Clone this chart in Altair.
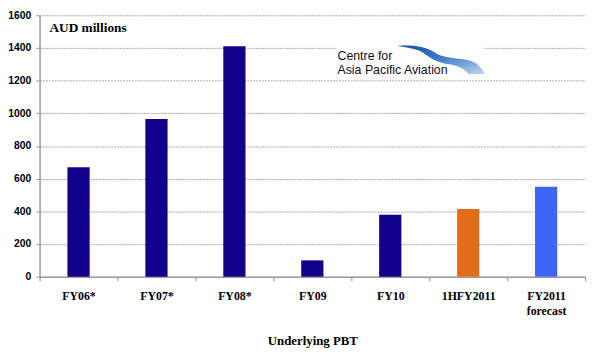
import base64
import altair as alt
import pandas as pd

categories = ["FY06*", "FY07*", "FY08*", "FY09", "FY10", "1HFY2011", "FY2011|forecast"]
values = [670, 965, 1410, 100, 380, 415, 550]
groups = ["past", "past", "past", "past", "past", "half", "forecast"]
group_domain = ["past", "half", "forecast"]
group_colors = ["#11008A", "#E36C1A", "#3D66F5"]
y_ticks = [0, 200, 400, 600, 800, 1000, 1200, 1400, 1600]
unit_label = ["AUD millions"]
logo_line1 = ["Centre for"]
logo_line2 = ["Asia Pacific Aviation"]
x_title = "Underlying PBT"

df = pd.DataFrame({"cat": categories, "value": values, "group": groups})

LEFT = 32  # plot area starts at page x = 8 + LEFT
W, H = 553, 265
OX = LEFT + 8 - 37  # shift relative to the reference's plot origin

bars = alt.Chart(df).mark_bar(width=alt.RelativeBandSize(0.285)).encode(
    x=alt.X(
        "cat:N",
        sort=categories,
        scale=alt.Scale(paddingInner=0, paddingOuter=0),
        axis=alt.Axis(
            title=x_title,
            labelAngle=0,
            tickBand="extent",
            labelExpr="split(datum.label, '|')",
            domainColor="#9a9a9a",
            domainWidth=1.5,
            tickColor="#9a9a9a",
            tickWidth=1.2,
            tickSize=4,
            labelFont="Liberation Serif",
            labelFontSize=12,
            labelFontWeight="bold",
            labelColor="#000000",
            labelPadding=10,
            labelBaseline="top",
            labelLineHeight=15,
            titleFont="Liberation Serif",
            titleFontSize=13,
            titleFontWeight="bold",
            titleColor="#000000",
            titleY=69,
            titleBaseline="alphabetic",
            grid=False,
        ),
    ),
    y=alt.Y(
        "value:Q",
        scale=alt.Scale(domain=[0, 1600]),
        axis=alt.Axis(
            values=y_ticks,
            format="d",
            title=None,
            grid=True,
            gridColor="#a8a8a8",
            gridDash=[2, 1],
            gridWidth=1,
            domainColor="#9a9a9a",
            domainWidth=1.5,
            tickColor="#9a9a9a",
            tickSize=4,
            labelFont="Liberation Sans",
            labelFontSize=10.5,
            labelFontWeight="bold",
            labelColor="#000000",
            labelPadding=5,
        ),
    ),
    color=alt.Color(
        "group:N",
        scale=alt.Scale(domain=group_domain, range=group_colors),
        legend=None,
    ),
)

one = alt.Data(values=[{"k": 1}])

unit_text = alt.Chart(pd.DataFrame({"t": unit_label})).mark_text(
    align="left", baseline="alphabetic", font="Liberation Serif",
    fontSize=13.5, fontWeight="bold", color="#000000",
).encode(x=alt.value(13 - OX), y=alt.value(17), text="t:N")

logo_bg = alt.Chart(one).mark_rect(color="#ffffff").encode(
    x=alt.value(303 - OX), x2=alt.value(454 - OX), y=alt.value(27), y2=alt.value(63)
)

svg = (
    "<svg xmlns='http://www.w3.org/2000/svg' width='89' height='30' viewBox='0 0 89 30'>"
    "<defs><linearGradient id='g' x1='0' y1='0' x2='1' y2='1'>"
    "<stop offset='0' stop-color='#1b4fa6'/>"
    "<stop offset='0.45' stop-color='#3c7ac8'/>"
    "<stop offset='1' stop-color='#c4d8ee'/>"
    "</linearGradient></defs>"
    "<path d='M0,1 C12,0 28,1 38,8 C46,14 62,13 74,16 C82,19 86,25 89,30 "
    "L72,30 C68,24 60,20 48,19 C36,17 30,10 22,6 C14,3 6,2 0,1 Z' fill='url(#g)'/>"
    "</svg>"
)
uri = "data:image/svg+xml;base64," + base64.b64encode(svg.encode()).decode()

logo_img = alt.Chart(one).mark_image(
    width=89, height=30, align="left", baseline="top", aspect=False
).encode(x=alt.value(366 - OX), y=alt.value(30), url=alt.value(uri))

text_style = dict(align="left", baseline="alphabetic", font="Liberation Sans",
                  fontSize=12.5, color="#111111")

logo_text1 = alt.Chart(pd.DataFrame({"t": logo_line1})).mark_text(**text_style).encode(
    x=alt.value(305 - OX), y=alt.value(45), text="t:N"
)
logo_text2 = alt.Chart(pd.DataFrame({"t": logo_line2})).mark_text(**text_style).encode(
    x=alt.value(305 - OX), y=alt.value(59), text="t:N"
)

chart = alt.layer(bars, unit_text, logo_bg, logo_img, logo_text1, logo_text2).properties(
    width=W,
    height=H,
    padding={"left": LEFT, "top": 5, "right": 600 - 8 - LEFT - W, "bottom": 80},
    autosize=alt.AutoSizeParams(type="none"),
    background="#ffffff",
).configure_view(strokeWidth=0)

chart.save("out.html", embed_options={"renderer": "svg", "actions": False})
